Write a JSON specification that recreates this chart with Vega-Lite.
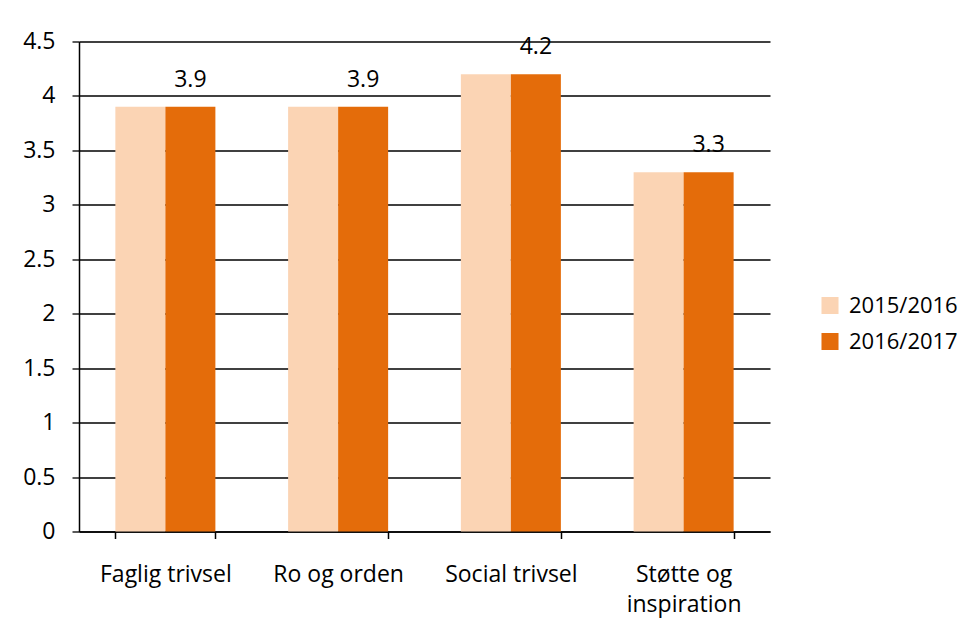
{
  "$schema": "https://vega.github.io/schema/vega-lite/v6.json",
  "width": 691,
  "height": 490,
  "autosize": "none",
  "padding": {"left": 79, "top": 41.5, "right": 208, "bottom": 89.5},
  "background": "white",
  "data": {
    "values": [
      {"kategori": "Faglig trivsel", "år": "2015/2016", "værdi": 3.9},
      {"kategori": "Faglig trivsel", "år": "2016/2017", "værdi": 3.9},
      {"kategori": "Ro og orden", "år": "2015/2016", "værdi": 3.9},
      {"kategori": "Ro og orden", "år": "2016/2017", "værdi": 3.9},
      {"kategori": "Social trivsel", "år": "2015/2016", "værdi": 4.2},
      {"kategori": "Social trivsel", "år": "2016/2017", "værdi": 4.2},
      {"kategori": "Støtte og inspiration", "år": "2015/2016", "værdi": 3.3},
      {"kategori": "Støtte og inspiration", "år": "2016/2017", "værdi": 3.3}
    ]
  },
  "encoding": {
    "x": {
      "field": "kategori",
      "type": "nominal",
      "sort": null,
      "scale": {"paddingInner": 0.421, "paddingOuter": 0.2105},
      "axis": {
        "title": null,
        "labelAngle": 0,
        "tickBand": "extent",
        "tickSize": 7,
        "tickColor": "black",
        "tickWidth": 1.5,
        "domainColor": "black",
        "domainWidth": 1.5,
        "labelPadding": 25,
        "labelFontSize": 23,
        "labelFont": "Open Sans",
        "labelColor": "black",
        "labelLineHeight": 30,
        "labelExpr": "datum.label == 'Støtte og inspiration' ? ['Støtte og', 'inspiration'] : datum.label"
      }
    },
    "xOffset": {"field": "år", "type": "nominal", "scale": {"padding": 0}},
    "y": {
      "field": "værdi",
      "type": "quantitative",
      "scale": {"domain": [0, 4.5], "nice": false},
      "axis": {
        "title": null,
        "values": [0, 0.5, 1, 1.5, 2, 2.5, 3, 3.5, 4, 4.5],
        "format": ".1~f",
        "grid": true,
        "gridColor": "black",
        "gridOpacity": 1,
        "gridWidth": 1.3,
        "tickSize": 7,
        "tickColor": "black",
        "tickWidth": 1.3,
        "domainColor": "black",
        "domainWidth": 1.5,
        "labelPadding": 17,
        "labelFontSize": 23,
        "labelFont": "Open Sans",
        "labelColor": "black"
      }
    }
  },
  "layer": [
    {
      "mark": {"type": "bar"},
      "encoding": {
        "color": {
          "field": "år",
          "type": "nominal",
          "scale": {"domain": ["2015/2016", "2016/2017"], "range": ["#FBD4B4", "#E46C0A"]},
          "legend": {
            "title": null,
            "orient": "none",
            "legendX": 740,
            "legendY": 253,
            "symbolType": "square",
            "symbolSize": 290,
            "symbolStrokeWidth": 0,
            "symbolOpacity": 1,
            "labelFontSize": 22,
            "labelFont": "Open Sans",
            "labelColor": "black",
            "rowPadding": 14,
            "labelOffset": 8
          }
        }
      }
    },
    {
      "transform": [{"filter": "datum['år'] == '2016/2017'"}],
      "mark": {"type": "text", "baseline": "alphabetic", "dy": -20, "fontSize": 23, "font": "Open Sans", "color": "black"},
      "encoding": {
        "text": {"field": "værdi", "type": "quantitative", "format": ".1f"}
      }
    }
  ],
  "config": {"view": {"stroke": null}}
}
